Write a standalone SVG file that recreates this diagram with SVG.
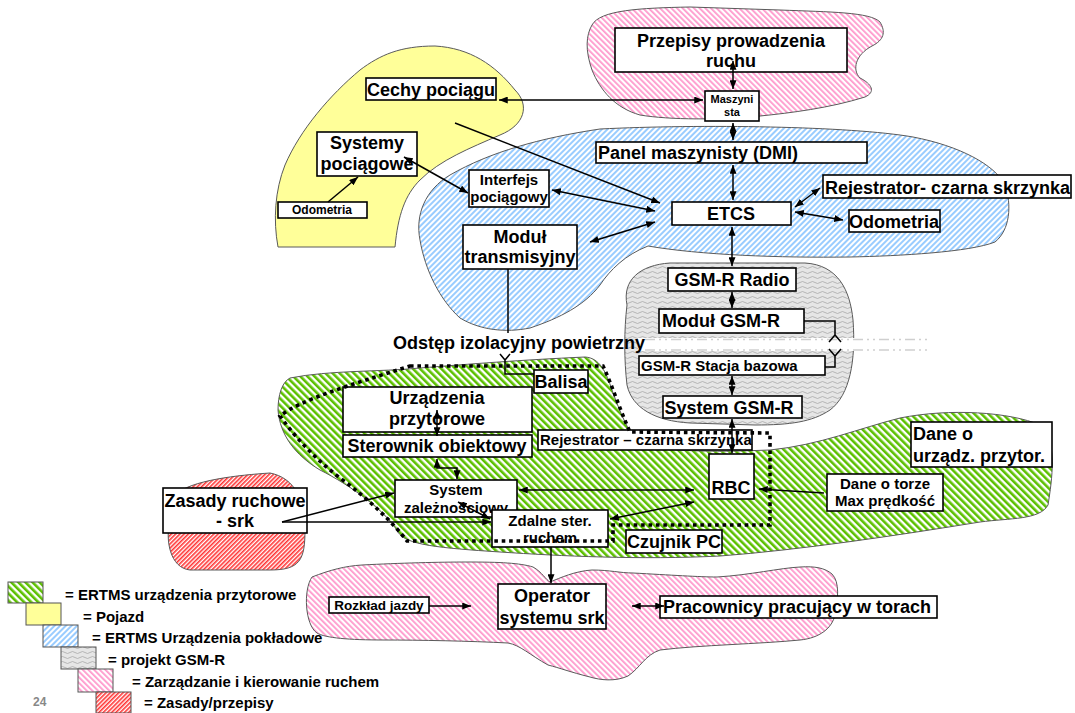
<svg xmlns="http://www.w3.org/2000/svg" width="1075" height="713" viewBox="0 0 1075 713">
<style>
.bl{stroke:#5a5a5a;stroke-width:1}
.b{fill:#fff;stroke:#000;stroke-width:1.6}
.t{font-family:"Liberation Sans",Arial,sans-serif;font-weight:bold;fill:#000}
.c{text-anchor:middle}
.s18{font-size:18px}
.s15{font-size:15px}
.s14{font-size:15px}
.s12{font-size:12px}
.s11{font-size:11px}
.ln{fill:none;stroke:#000;stroke-width:1.5}
.dot{fill:none;stroke:#000;stroke-width:3.6;stroke-dasharray:3.6 3.8}
</style>
<defs>
<pattern id="pGreen" width="5" height="5" patternUnits="userSpaceOnUse" patternTransform="rotate(-45)"><rect width="5" height="5" fill="#fff"/><rect width="2.6" height="5" fill="#5cc000"/></pattern>
<pattern id="pBlue" width="4" height="4" patternUnits="userSpaceOnUse" patternTransform="rotate(45)"><rect width="4" height="4" fill="#fff"/><rect width="2" height="4" fill="#99ccff"/></pattern>
<pattern id="pPink" width="4" height="4" patternUnits="userSpaceOnUse" patternTransform="rotate(-45)"><rect width="4" height="4" fill="#fff"/><rect width="1.8" height="4" fill="#ff99cc"/></pattern>
<pattern id="pRed" width="3" height="3" patternUnits="userSpaceOnUse" patternTransform="rotate(45)"><rect width="3" height="3" fill="#fff"/><rect width="1.6" height="3" fill="#ff3333"/></pattern>
<pattern id="pGray" width="10" height="5" patternUnits="userSpaceOnUse"><rect width="10" height="5" fill="#e6e6e6"/><path d="M0,2.5 Q2.5,0.5 5,2.5 T10,2.5" fill="none" stroke="#a8a8a8" stroke-width="0.8"/></pattern>
<marker id="ah" viewBox="0 0 10 8" refX="10" refY="4" markerWidth="9" markerHeight="7" markerUnits="userSpaceOnUse" orient="auto-start-reverse"><path d="M0,0 L10,4 L0,8 Z" fill="#000"/></marker>
</defs>

<g id="regions">
<path class="bl" fill="url(#pPink)" d="M592,25 C600,10 640,8 690,7 L780,10 C830,12 870,12 880,22 C886,32 884,40 872,46 C855,55 852,70 860,78 C872,84 876,92 865,97 C830,108 790,113 760,116 C720,120 670,120 640,115 C615,108 600,90 592,70 C585,50 586,35 592,25 Z"/>
<path class="bl" fill="#ffff99" d="M395,247 C398,215 405,195 420,180 C440,160 470,148 500,135 C525,125 530,105 515,90 C495,65 470,48 435,46 C400,46 380,55 360,70 C330,95 300,130 285,165 C275,190 273,220 278,247 Z"/>
<path class="bl" fill="url(#pBlue)" d="M420,240 C415,215 425,190 450,175 C490,152 540,138 600,129 C700,124 850,126 913,137 C960,146 995,165 1005,185 C1012,205 1010,230 995,242 C970,252 900,256 850,257 C780,258 700,255 648,246 C625,255 610,270 600,285 C585,305 560,318 530,328 C505,333 480,330 460,318 C440,300 425,270 420,240 Z"/>
<path class="bl" fill="url(#pGray)" d="M627,305 C622,280 640,265 670,263 L805,263 C838,265 850,290 853,320 C856,360 850,395 830,410 C812,422 790,425 755,425 L690,423 C655,421 632,408 627,385 C624,360 624,330 627,305 Z"/>
<path class="bl" fill="url(#pGreen)" d="M290,378 C330,370 380,372 420,368 C470,364 520,360 585,357 C600,358 606,372 612,390 C620,412 628,432 640,446 C680,452 720,452 770,450 C820,445 860,428 900,418 C950,408 1010,412 1040,425 C1058,440 1052,480 1048,505 C1040,520 1010,518 980,522 C900,535 800,550 720,556 C640,560 560,556 500,552 C440,548 405,545 398,532 C385,510 350,485 320,470 C295,455 280,435 278,410 C278,395 282,382 290,378 Z"/>
<path class="bl" fill="url(#pRed)" d="M175,495 C190,480 240,475 270,473 C295,478 305,500 305,530 C305,560 300,570 270,570 L190,570 C170,568 165,540 170,520 Z"/>
<path class="bl" fill="url(#pPink)" d="M312,577 C330,570 345,566 362,565 C400,563 440,562 467,562 C500,562 520,563 533,567 C542,572 546,580 550,582 C560,578 575,571 592,570 C610,570 620,573 633,573 C670,575 700,577 717,577 C750,575 780,568 800,567 C815,566 825,568 832,574 C840,582 838,600 835,615 C832,628 820,638 800,640 C760,644 700,645 660,650 C645,655 640,668 628,676 C615,682 600,680 590,677 C570,672 560,668 548,665 C530,655 520,645 508,643 C470,641 420,640 383,640 C350,640 325,638 317,633 C305,625 303,590 312,577 Z"/>
<rect x="638" y="338" width="222" height="13" fill="#fff"/>
<path d="M645,339.5 H930 M645,350 H930" fill="none" stroke="#cfcfcf" stroke-width="1.5" stroke-dasharray="10 4 2 4 2 4"/>
</g>

<g id="n-przepisy"><rect class="b" x="615" y="28" width="232" height="44"/><text class="t c s18" x="731" y="47">Przepisy prowadzenia</text><text class="t c s18" x="731" y="67">ruchu</text></g>
<g id="n-maszynista"><rect class="b" x="705" y="91" width="54" height="30"/><text class="t c s11" x="732" y="103">Maszyni</text><text class="t c s11" x="732" y="116">sta</text></g>
<g id="n-panel"><rect class="b" x="596" y="142" width="271" height="21"/><text class="t s18" x="598" y="159">Panel maszynisty (DMI)</text></g>
<g id="n-etcs"><rect class="b" x="672" y="202" width="119" height="23"/><text class="t c s18" x="731" y="220">ETCS</text></g>
<g id="n-rejestrator1"><rect class="b" x="823" y="175" width="248" height="23"/><text class="t s18" x="825" y="194">Rejestrator- czarna skrzynka</text></g>
<g id="n-odometria1"><rect class="b" x="849" y="210" width="91" height="22"/><text class="t c s18" x="894" y="228">Odometria</text></g>
<g id="n-cechy"><rect class="b" x="366" y="78" width="130" height="22"/><text class="t c s18" x="431" y="96">Cechy pociągu</text></g>
<g id="n-systemy"><rect class="b" x="317" y="132" width="100" height="44"/><text class="t c s18" x="367" y="149">Systemy</text><text class="t c s18" x="367" y="170">pociągowe</text></g>
<g id="n-odometria2"><rect class="b" x="278" y="202" width="89" height="16"/><text class="t c s12" x="322" y="214">Odometria</text></g>
<g id="n-interfejs"><rect class="b" x="469" y="170" width="80" height="37"/><text class="t c s15" x="509" y="185">Interfejs</text><text class="t c s15" x="509" y="202">pociągowy</text></g>
<g id="n-modul"><rect class="b" x="463" y="225" width="114" height="44"/><text class="t c s18" x="520" y="243">Moduł</text><text class="t c s18" x="520" y="263">transmisyjny</text></g>
<g id="n-odstep"><text class="t s18" x="393" y="349">Odstęp izolacyjny powietrzny</text></g>
<g id="n-balisa"><rect class="b" x="534" y="370" width="54" height="23"/><text class="t c s18" x="561" y="388">Balisa</text></g>
<g id="n-gsmradio"><rect class="b" x="668" y="268" width="128" height="23"/><text class="t c s18" x="732" y="286">GSM-R Radio</text></g>
<g id="n-modulgsm"><rect class="b" x="659" y="309" width="145" height="24"/><text class="t s18" x="662" y="327">Moduł GSM-R</text></g>
<g id="n-stacja"><rect class="b" x="639" y="356" width="186" height="19"/><text class="t s15" x="641" y="371">GSM-R Stacja bazowa</text></g>
<g id="n-systemgsm"><rect class="b" x="663" y="396" width="139" height="22"/><text class="t c s18" x="729" y="414">System GSM-R</text></g>
<g id="n-urzadzenia"><rect class="b" x="343" y="387" width="189" height="45"/><text class="t c s18" x="437" y="404">Urządzenia</text><text class="t c s18" x="437" y="425">przytorowe</text></g>
<g id="n-sterownik"><rect class="b" x="343" y="435" width="189" height="22"/><text class="t c s18" x="437" y="452">Sterownik obiektowy</text></g>
<g id="n-rejestrator2"><rect class="b" x="538" y="430" width="214" height="20"/><text class="t s15" x="540" y="445">Rejestrator – czarna skrzynka</text></g>
<g id="n-rbc"><rect class="b" x="709" y="454" width="45" height="45"/><text class="t c s18" x="731" y="494">RBC</text></g>
<g id="n-systemzal"><rect class="b" x="395" y="480" width="122" height="37"/><text class="t c s15" x="456" y="495">System</text><text class="t c s15" x="456" y="513">zależnościowy</text></g>
<g id="n-zdalne"><rect class="b" x="492" y="510" width="116" height="37"/><text class="t c s15" x="550" y="526">Zdalne ster.</text><text class="t c s15" x="550" y="543">ruchem</text></g>
<g id="n-zasady"><rect class="b" x="163" y="488" width="144" height="45"/><text class="t c s18" x="235" y="507">Zasady ruchowe</text><text class="t c s18" x="235" y="527">- srk</text></g>
<g id="n-daneotorze"><rect class="b" x="827" y="474" width="116" height="37"/><text class="t c s15" x="885" y="489">Dane o torze</text><text class="t c s15" x="885" y="506">Max prędkość</text></g>
<g id="n-daneurz"><rect class="b" x="911" y="422" width="141" height="45"/><text class="t s18" x="913" y="440">Dane o</text><text class="t s18" x="913" y="462">urządz. przytor.</text></g>
<g id="n-czujnik"><rect class="b" x="626" y="530" width="96" height="23"/><text class="t c s18" x="674" y="548">Czujnik PC</text></g>
<g id="n-operator"><rect class="b" x="498" y="584" width="108" height="45"/><text class="t c s18" x="552" y="602">Operator</text><text class="t c s18" x="552" y="624">systemu srk</text></g>
<g id="n-rozklad"><rect class="b" x="329" y="597" width="100" height="16"/><text class="t c" style="font-size:13.5px" x="379" y="610">Rozkład jazdy</text></g>
<g id="n-pracownicy"><rect class="b" x="660" y="596" width="277" height="22"/><text class="t s18" x="663" y="613">Pracownicy pracujący w torach</text></g>

<g id="boundary">
<path class="dot" d="M410,366 L603,366 C612,385 620,410 630,432 L770,433 L770,525 L613,525 L613,541 L407,541 C395,525 370,500 340,478 C310,455 290,430 280,416 C300,400 350,385 410,366 Z"/>
</g>

<g id="connectors">
<path class="ln" d="M733,61 V89" marker-start="url(#ah)" marker-end="url(#ah)"/>
<path class="ln" d="M733,123 V140" marker-start="url(#ah)" marker-end="url(#ah)"/>
<path class="ln" d="M733,165 V200" marker-start="url(#ah)" marker-end="url(#ah)"/>
<path class="ln" d="M795,207 L820,188" marker-start="url(#ah)" marker-end="url(#ah)"/>
<path class="ln" d="M795,212 L843,220" marker-start="url(#ah)" marker-end="url(#ah)"/>
<path class="ln" d="M499,100 H703" marker-start="url(#ah)" marker-end="url(#ah)"/>
<path class="ln" d="M455,123 L660,203" marker-end="url(#ah)"/>
<path class="ln" d="M328,202 L358,177" marker-end="url(#ah)"/>
<path class="ln" d="M404,157 L468,193" marker-start="url(#ah)" marker-end="url(#ah)"/>
<path class="ln" d="M552,190 L655,211" marker-start="url(#ah)" marker-end="url(#ah)"/>
<path class="ln" d="M590,242 L655,222" marker-start="url(#ah)" marker-end="url(#ah)"/>
<path class="ln" d="M508,269 V333"/>
<path class="ln" d="M732,227 V266" marker-start="url(#ah)" marker-end="url(#ah)"/>
<path class="ln" d="M732,292 V308" marker-start="url(#ah)" marker-end="url(#ah)"/>
<path class="ln" d="M732,376 V395" marker-start="url(#ah)" marker-end="url(#ah)"/>
<path class="ln" d="M732,419 V453" marker-start="url(#ah)" marker-end="url(#ah)"/>
<path class="ln" d="M437,410 V436" marker-start="url(#ah)" marker-end="url(#ah)"/>
<path class="ln" d="M437,459 V468 H457 V479" marker-start="url(#ah)" marker-end="url(#ah)"/>
<path class="ln" d="M519,490 H694" marker-start="url(#ah)" marker-end="url(#ah)"/>
<path class="ln" d="M610,519 L694,502" marker-start="url(#ah)" marker-end="url(#ah)"/>
<path class="ln" d="M458,502 L490,519" marker-start="url(#ah)" marker-end="url(#ah)"/>
<path class="ln" d="M282,522 L394,493" marker-end="url(#ah)"/>
<path class="ln" d="M282,522 H491" marker-end="url(#ah)"/>
<path class="ln" d="M551,547 V583" marker-end="url(#ah)"/>
<path class="ln" d="M429,606 H471" marker-end="url(#ah)"/>
<path class="ln" d="M632,606 H664" marker-start="url(#ah)" marker-end="url(#ah)"/>
<path class="ln" d="M824,493 L759,489" marker-end="url(#ah)"/>
<path class="ln" d="M804,321 H835 V335 M829,342 L835,335 L841,342"/>
<path class="ln" d="M825,367 H835 V355 M829,349 L835,356 L841,349"/>
<path class="ln" d="M534,374 H505 V359 M500,354 L505,360 L510,354"/>
</g>

<g id="legend">
<rect x="8" y="582" width="35" height="21" fill="url(#pGreen)" stroke="#555"/>
<rect x="26" y="603" width="35" height="22" fill="#ffff99" stroke="#555"/>
<rect x="43" y="625" width="35" height="22" fill="url(#pBlue)" stroke="#555"/>
<rect x="61" y="647" width="35" height="22" fill="url(#pGray)" stroke="#555"/>
<rect x="78" y="669" width="35" height="23" fill="url(#pPink)" stroke="#555"/>
<rect x="96" y="692" width="35" height="21" fill="url(#pRed)" stroke="#555"/>
<text class="t s14" x="65" y="600">= ERTMS urządzenia przytorowe</text>
<text class="t s14" x="83" y="622">= Pojazd</text>
<text class="t s14" x="92" y="643">= ERTMS Urządzenia pokładowe</text>
<text class="t s14" x="108" y="665">= projekt GSM-R</text>
<text class="t s14" x="132" y="687">= Zarządzanie i kierowanie ruchem</text>
<text class="t s14" x="144" y="708">= Zasady/przepisy</text>
<text class="t s12" x="33" y="706" style="fill:#888">24</text>
</g>
</svg>
